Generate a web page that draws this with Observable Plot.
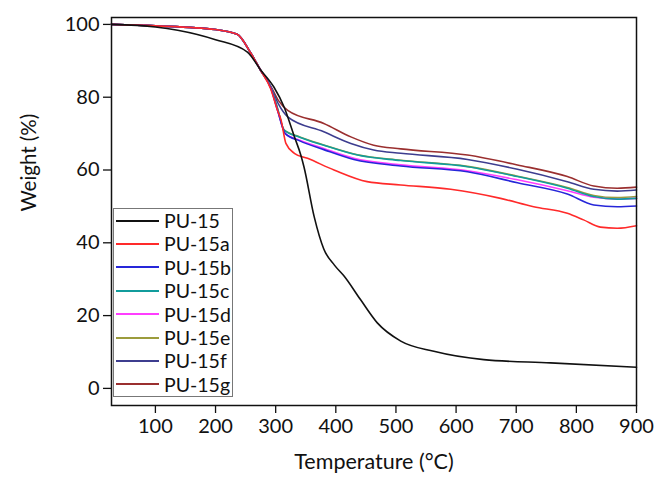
<!DOCTYPE html>
<html>
<head>
<meta charset="utf-8">
<script src="https://cdn.jsdelivr.net/npm/d3@7"></script>
<script src="https://cdn.jsdelivr.net/npm/@observablehq/plot@0.6"></script>
<style>
    body { margin: 0; background: #fff; }
    #chart { position: relative; width: 662px; height: 496px; font-family: Lato, sans-serif; }
    #legend {
        position: absolute; left: 113px; top: 208px; width: 120px; height: 189px;
        border: 1px solid #777; background: #fff; box-sizing: border-box;
    }
    .row { display: flex; align-items: center; height: 23.4px; }
    .sw { width: 43px; height: 0; border-top: 2px solid; margin-left: 2px; margin-right: 5px; }
    .lab { font-size: 19.5px; line-height: 1; color: #111; }
</style>
</head>
<body>
<div id="chart"><div id="legend"></div></div>
<script>
// Temperature (°C), weight (%) pairs
const names = ["PU-15", "PU-15a", "PU-15b", "PU-15c", "PU-15d", "PU-15e", "PU-15f", "PU-15g"];
const colors = ["#111111", "#ff2a2a", "#2626d9", "#119c9c", "#ff3dff", "#9c9c3c", "#3d3d8f", "#9a2f2f"];

const pu15 = [[27, 100], [100, 99.3], [137, 98.4], [200, 95.8], [253, 92.4], [275, 87.5], [297, 82.8],
    [314, 77.3], [331, 69.2], [342, 64], [347, 60.9], [364, 47.2], [380, 38.3], [398, 33.8], [414, 30.8],
    [441, 24.4], [469, 18], [508, 13], [563, 10.2], [646, 7.9], [757, 7], [900, 5.8]];
const pu15a = [[27, 100], [100, 99.6], [200, 98.6], [236, 97.3], [259, 92], [275, 87.4], [292, 82.2],
    [303, 76.4], [309, 73.7], [317, 67.3], [331, 64.6], [353, 63.2], [397, 60], [452, 56.8], [508, 55.9],
    [591, 54.7], [674, 52.2], [729, 49.9], [785, 48.1], [812, 46.3], [840, 44.3], [868, 44], [900, 44.7]];
const pu15b = [[27, 100], [100, 99.6], [200, 98.6], [236, 97.3], [259, 92], [275, 87.4], [292, 82.5],
    [303, 76.5], [316, 70], [340, 68], [380, 65.6], [430, 62.9], [508, 61.1], [619, 59.5], [702, 56.5],
    [785, 53.4], [829, 50.4], [868, 49.9], [900, 50.1]];
const pu15c = [[27, 100], [100, 99.6], [200, 98.6], [236, 97.3], [259, 92], [275, 87.4], [292, 82.6],
    [303, 77], [314, 71], [340, 69], [380, 66.8], [436, 64.1], [508, 62.6], [619, 60.9], [702, 58.2],
    [785, 55], [829, 52.7], [868, 52], [900, 52.2]];
const pu15d = [[27, 100], [100, 99.6], [200, 98.6], [236, 97.3], [259, 92], [275, 87.4], [292, 82.5],
    [303, 76.5], [316, 70], [340, 68.2], [380, 65.9], [430, 63.2], [508, 61.4], [619, 59.8], [702, 57.3],
    [785, 54.3], [829, 52.5], [868, 52], [900, 52.2]];
const pu15e = [[27, 100], [100, 99.6], [200, 98.6], [236, 97.3], [259, 92], [275, 87.4], [292, 82.6],
    [303, 77], [314, 71], [340, 69.1], [380, 66.9], [436, 64.2], [508, 62.7], [619, 61], [702, 58.3],
    [785, 55.2], [829, 53], [868, 52.4], [900, 52.7]];
const pu15f = [[27, 100], [100, 99.6], [200, 98.6], [236, 97.3], [259, 92], [275, 87.4], [292, 82.8],
    [305, 78], [320, 74.6], [380, 70.5], [425, 67.3], [463, 65.5], [508, 64.6], [619, 62.9], [702, 60.2],
    [785, 56.8], [829, 54.7], [868, 54.2], [900, 54.5]];
const pu15g = [[27, 100], [100, 99.6], [200, 98.6], [236, 97.3], [259, 92], [275, 87.4], [292, 83],
    [305, 79], [320, 76.4], [380, 72.8], [425, 69.1], [463, 66.8], [508, 65.8], [619, 64.1], [702, 61.4],
    [785, 58.2], [829, 55.6], [868, 55], [900, 55.3]];

const series = [pu15, pu15a, pu15b, pu15c, pu15d, pu15e, pu15f, pu15g];
const xTicks = [100, 200, 300, 400, 500, 600, 700, 800, 900];
const yTicks = [0, 20, 40, 60, 80, 100];

const rows = series.flatMap((s, i) => s.map(([t, w]) => ({name: names[i], t, w})));

const chart = Plot.plot({
    width: 662,
    height: 496,
    marginLeft: 111,
    marginRight: 26,
    marginTop: 17,
    marginBottom: 91,
    style: {fontFamily: "Lato, sans-serif", color: "#111"},
    x: {domain: [27, 900]},
    y: {domain: [-4.7, 101.9]},
    color: {domain: names, range: colors},
    marks: [
        Plot.axisX({ticks: xTicks, tickSize: 8, tickPadding: 5, fontSize: 20, label: null, strokeWidth: 1.3}),
        Plot.axisY({ticks: yTicks, tickSize: 8, tickPadding: 4, fontSize: 20, label: null, strokeWidth: 1.3}),
        // later series first so the black PU-15 ends up on top like the original
        ...names.slice().reverse().map((n) =>
            Plot.line(rows.filter((d) => d.name === n), {
                x: "t",
                y: "w",
                stroke: "name",
                strokeWidth: 1.6,
                curve: "monotone-x",
            })
        ),
        Plot.frame({stroke: "#111", strokeWidth: 1.5}),
        Plot.text(["Temperature (°C)"], {frameAnchor: "bottom", dy: 63, fontSize: 21.5, fill: "#111"}),
        Plot.text(["Weight (%)"], {frameAnchor: "left", dx: -82, rotate: -90, fontSize: 20.5, fill: "#111"}),
    ],
});
document.querySelector("#chart").prepend(chart);

const legend = document.querySelector("#legend");
names.forEach((n, i) => {
    const row = document.createElement("div");
    row.className = "row";
    row.innerHTML = `<span class="sw" style="border-color:${colors[i]}"></span><span class="lab">${n}</span>`;
    legend.append(row);
});
</script>
</body>
</html>
